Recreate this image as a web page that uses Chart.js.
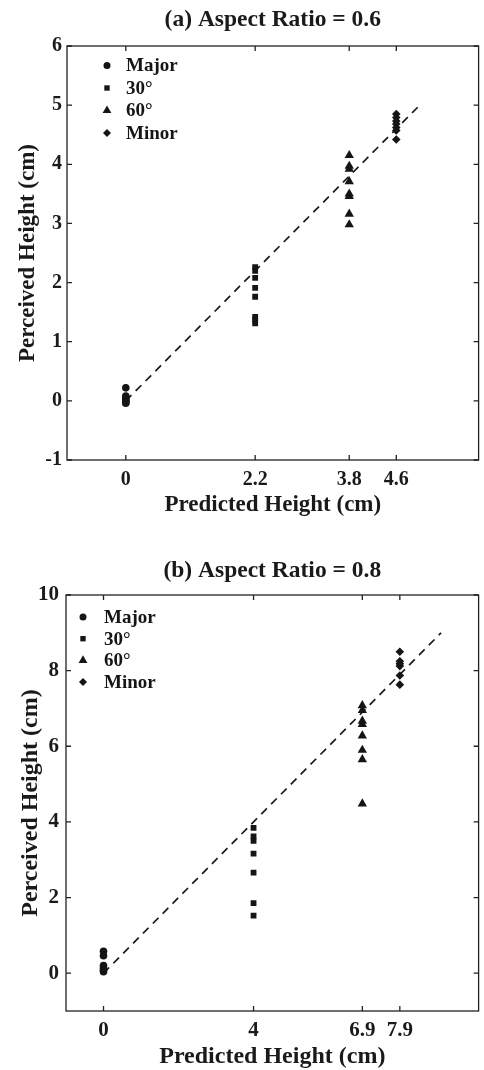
<!DOCTYPE html>
<html lang="en">
<head>
<meta charset="UTF-8">
<title>Perceived vs Predicted Height</title>
<script src="https://cdn.jsdelivr.net/npm/chart.js"></script>
<style>
  body { margin: 0; background: #fff; }
  .panel { position: relative; width: 484px; }
</style>
</head>
<body>
<div class="panel" style="height:520px"><canvas id="chartA"></canvas></div>
<div class="panel" style="height:550px"><canvas id="chartB"></canvas></div>
<script>
const seriesLabels = ['Major', '30°', '60°', 'Minor'];

// (a) aspect ratio 0.6
const predictedA = [0, 2.2, 3.8, 4.6];
const majorA = [0.22, 0.08, 0.05, 0.02, 0, -0.02, -0.04];
const deg30A = [2.26, 2.2, 2.08, 1.91, 1.76, 1.42, 1.37, 1.31];
const deg60A = [4.15, 3.97, 3.92, 3.71, 3.5, 3.46, 3.16, 2.98];
const minorA = [4.85, 4.79, 4.73, 4.68, 4.62, 4.57, 4.42];
const xTicksA = [0, 2.2, 3.8, 4.6];
const yTicksA = [-1, 0, 1, 2, 3, 4, 5, 6];
const refLineA = [0, 5];

// (b) aspect ratio 0.8
const predictedB = [0, 4, 6.9, 7.9];
const majorB = [0.58, 0.46, 0.2, 0.14, 0.08, 0.04];
const deg30B = [3.84, 3.62, 3.5, 3.16, 2.66, 1.85, 1.52];
const deg60B = [7.08, 6.95, 6.67, 6.58, 6.28, 5.9, 5.65, 4.48];
const minorB = [8.5, 8.25, 8.18, 8.12, 7.87, 7.63];
const xTicksB = [0, 4, 6.9, 7.9];
const yTicksB = [0, 2, 4, 6, 8, 10];
const refLineB = [0, 9];

const FONT = "'Liberation Serif', 'Times New Roman', serif";
const INK = '#151515';
const styles = ['circle', 'rect', 'triangle', 'rectRot'];
const radii = [3.8, 4.1, 5.4, 4.3];

// frame round the plot with short inward ticks on all four sides
const framePlugin = {
  id: 'frame',
  afterDatasetsDraw(chart) {
    const {ctx, chartArea: a, scales: {x, y}} = chart;
    ctx.save();
    ctx.strokeStyle = '#222';
    ctx.lineWidth = 1.3;
    ctx.strokeRect(a.left, a.top, a.right - a.left, a.bottom - a.top);
    ctx.beginPath();
    x.ticks.forEach(t => {
      const px = x.getPixelForValue(t.value);
      ctx.moveTo(px, a.bottom); ctx.lineTo(px, a.bottom - 5);
      ctx.moveTo(px, a.top); ctx.lineTo(px, a.top + 5);
    });
    y.ticks.forEach(t => {
      const py = y.getPixelForValue(t.value);
      ctx.moveTo(a.left, py); ctx.lineTo(a.left + 5, py);
      ctx.moveTo(a.right, py); ctx.lineTo(a.right - 5, py);
    });
    ctx.stroke();
    ctx.restore();
  }
};

// legend drawn inside the plot, top left
const insetLegend = {
  id: 'insetLegend',
  afterDraw(chart, args, opts) {
    const {ctx, chartArea} = chart;
    const items = chart.data.datasets.filter(d => d.inLegend);
    ctx.save();
    ctx.font = opts.font;
    ctx.fillStyle = INK;
    ctx.textBaseline = 'middle';
    ctx.textAlign = 'left';
    items.forEach((d, i) => {
      const cx = chartArea.left + opts.dx;
      const cy = chartArea.top + opts.dy + i * opts.gap;
      if (Chart.helpers && Chart.helpers.drawPoint) {
        Chart.helpers.drawPoint(ctx, {pointStyle: d.pointStyle, radius: d.pointRadius - 0.3, rotation: 0, borderWidth: 0}, cx, cy);
      } else {
        ctx.beginPath(); ctx.arc(cx, cy, d.pointRadius, 0, Math.PI * 2); ctx.fill();
      }
      ctx.fillText(d.label, cx + opts.textGap, cy + 1);
    });
    ctx.restore();
  }
};

function makeChart(id, p) {
  const datasets = p.series.map((vals, i) => ({
    label: seriesLabels[i],
    inLegend: true,
    data: vals.map(v => ({x: p.predicted[i], y: v})),
    pointStyle: styles[i],
    pointRadius: radii[i],
    pointHoverRadius: radii[i],
    backgroundColor: INK,
    borderColor: INK,
    borderWidth: 0
  }));
  datasets.push({
    label: 'fit',
    data: p.refLine.map(v => ({x: v, y: v})),
    showLine: true,
    borderColor: '#1a1a1a',
    borderWidth: 1.7,
    borderDash: [8, 6],
    pointRadius: 0
  });

  return new Chart(document.getElementById(id), {
    type: 'scatter',
    data: { datasets },
    plugins: [framePlugin, insetLegend],
    options: {
      responsive: true,
      maintainAspectRatio: false,
      animation: false,
      events: [],
      layout: { padding: { left: 0, right: p.padRight, top: 0, bottom: 0 } },
      plugins: {
        legend: { display: false },
        tooltip: { enabled: false },
        title: {
          display: true,
          text: p.title,
          fullSize: false,
          color: '#1a1a1a',
          font: { family: FONT, size: 23.5, weight: 'bold', lineHeight: 1.2 },
          padding: p.titlePad
        },
        insetLegend: p.legend
      },
      scales: {
        x: {
          type: 'linear',
          min: p.range[0], max: p.range[1],
          afterBuildTicks: s => { s.ticks = p.xTicks.map(v => ({value: v})); },
          afterFit: s => { s.height = p.xAxisH; },
          grid: { display: false, drawTicks: false },
          border: { display: false },
          ticks: {
            autoSkip: false, maxRotation: 0, padding: p.xTickPad,
            color: '#1a1a1a',
            font: { family: FONT, size: p.tickSize, weight: 'bold', lineHeight: 1.2 },
            callback: v => String(v)
          },
          title: {
            display: true, text: 'Predicted Height (cm)', color: '#1a1a1a',
            font: { family: FONT, size: p.axisTitleSize, weight: 'bold', lineHeight: 1.1 },
            padding: { top: 0, bottom: p.xTitlePad }
          }
        },
        y: {
          type: 'linear',
          min: p.range[0], max: p.range[1],
          afterBuildTicks: s => { s.ticks = p.yTicks.map(v => ({value: v})); },
          afterFit: s => { s.width = p.yAxisW; },
          grid: { display: false, drawTicks: false },
          border: { display: false },
          ticks: {
            padding: p.yTickPad,
            color: '#1a1a1a',
            font: { family: FONT, size: p.tickSize, weight: 'bold', lineHeight: 1.2 },
            callback: v => String(v)
          },
          title: {
            display: true, text: 'Perceived Height (cm)', color: '#1a1a1a',
            font: { family: FONT, size: p.axisTitleSize, weight: 'bold', lineHeight: 1.1 },
            padding: { top: p.yTitlePad, bottom: 0 }
          }
        }
      }
    }
  });
}

makeChart('chartA', {
  title: '(a) Aspect Ratio = 0.6',
  predicted: predictedA,
  series: [majorA, deg30A, deg60A, minorA],
  refLine: refLineA,
  xTicks: xTicksA, yTicks: yTicksA,
  range: [-1, 6],
  padRight: 3,
  titlePad: { top: 6, bottom: 11.8 },
  xAxisH: 60, yAxisW: 67,
  xTickPad: 8, yTickPad: 5,
  xTitlePad: 2.3, yTitlePad: 15.3,
  tickSize: 20, axisTitleSize: 23,
  legend: { font: "bold 19px 'Liberation Serif', serif", dx: 40, dy: 19.5, gap: 22.5, textGap: 19 }
});

makeChart('chartB', {
  title: '(b) Aspect Ratio = 0.8',
  predicted: predictedB,
  series: [majorB, deg30B, deg60B, minorB],
  refLine: refLineB,
  xTicks: xTicksB, yTicks: yTicksB,
  range: [-1, 10],
  padRight: 1,
  titlePad: { top: 37, bottom: 9.8 },
  xAxisH: 59, yAxisW: 66,
  xTickPad: 7, yTickPad: 7,
  xTitlePad: 0, yTitlePad: 17.5,
  tickSize: 21, axisTitleSize: 24,
  legend: { font: "bold 19px 'Liberation Serif', serif", dx: 17, dy: 22, gap: 21.7, textGap: 21 }
});
</script>
</body>
</html>
